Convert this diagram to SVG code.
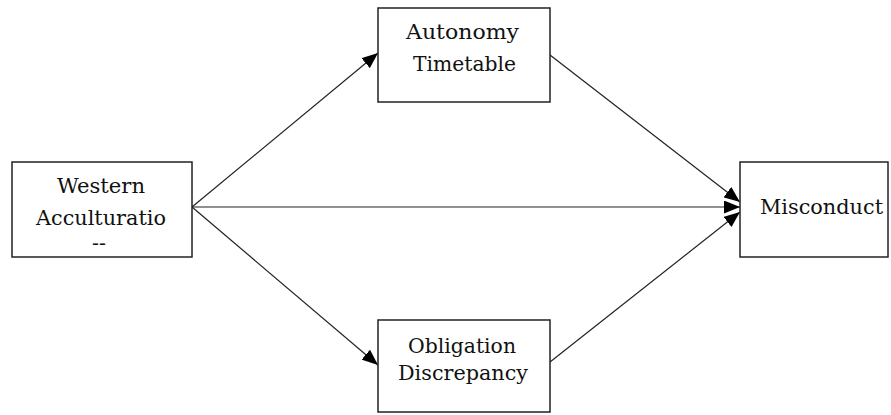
<svg xmlns="http://www.w3.org/2000/svg" width="891" height="415" viewBox="0 0 891 415">
<style>
.box{fill:#fff;stroke:#222;stroke-width:1.5}
.t{font-family:"DejaVu Serif","Liberation Serif",serif;font-size:20.5px;fill:#111}
.c{stroke:#222;stroke-width:1.2;fill:none;marker-end:url(#ah)}
</style>
<defs>
<marker id="ah" viewBox="0 0 16 13" refX="16" refY="6.5" markerWidth="16" markerHeight="13" markerUnits="userSpaceOnUse" orient="auto">
<path d="M0,0 L16,6.5 L0,13 Z" fill="#000"/>
</marker>
</defs>
<rect width="891" height="415" fill="#fff"/>
<g id="connectors">
<line class="c" x1="192" y1="207" x2="378" y2="53"/>
<line class="c" x1="192" y1="207" x2="378" y2="365"/>
<line class="c" x1="192" y1="207" x2="740" y2="207"/>
<line class="c" x1="550" y1="55" x2="740" y2="202"/>
<line class="c" x1="550" y1="362" x2="740" y2="212"/>
</g>
<g id="western">
<rect class="box" x="12" y="162" width="180" height="95"/>
<text class="t" x="57" y="193" textLength="88" lengthAdjust="spacingAndGlyphs">Western</text>
<text class="t" x="36" y="225" textLength="130" lengthAdjust="spacingAndGlyphs">Acculturatio</text>
<text class="t" x="99" y="250" text-anchor="middle" font-size="12">--</text>
</g>
<g id="autonomy">
<rect class="box" x="378" y="8" width="172" height="94"/>
<text class="t" x="406" y="39" textLength="113" lengthAdjust="spacingAndGlyphs">Autonomy</text>
<text class="t" x="413" y="71" textLength="103" lengthAdjust="spacingAndGlyphs">Timetable</text>
</g>
<g id="obligation">
<rect class="box" x="378" y="320" width="172" height="92"/>
<text class="t" x="408" y="353" textLength="108" lengthAdjust="spacingAndGlyphs">Obligation</text>
<text class="t" x="398" y="380" textLength="130" lengthAdjust="spacingAndGlyphs">Discrepancy</text>
</g>
<g id="misconduct">
<rect class="box" x="740" y="162" width="148" height="95"/>
<text class="t" x="760" y="214" textLength="123" lengthAdjust="spacingAndGlyphs">Misconduct</text>
</g>
</svg>
